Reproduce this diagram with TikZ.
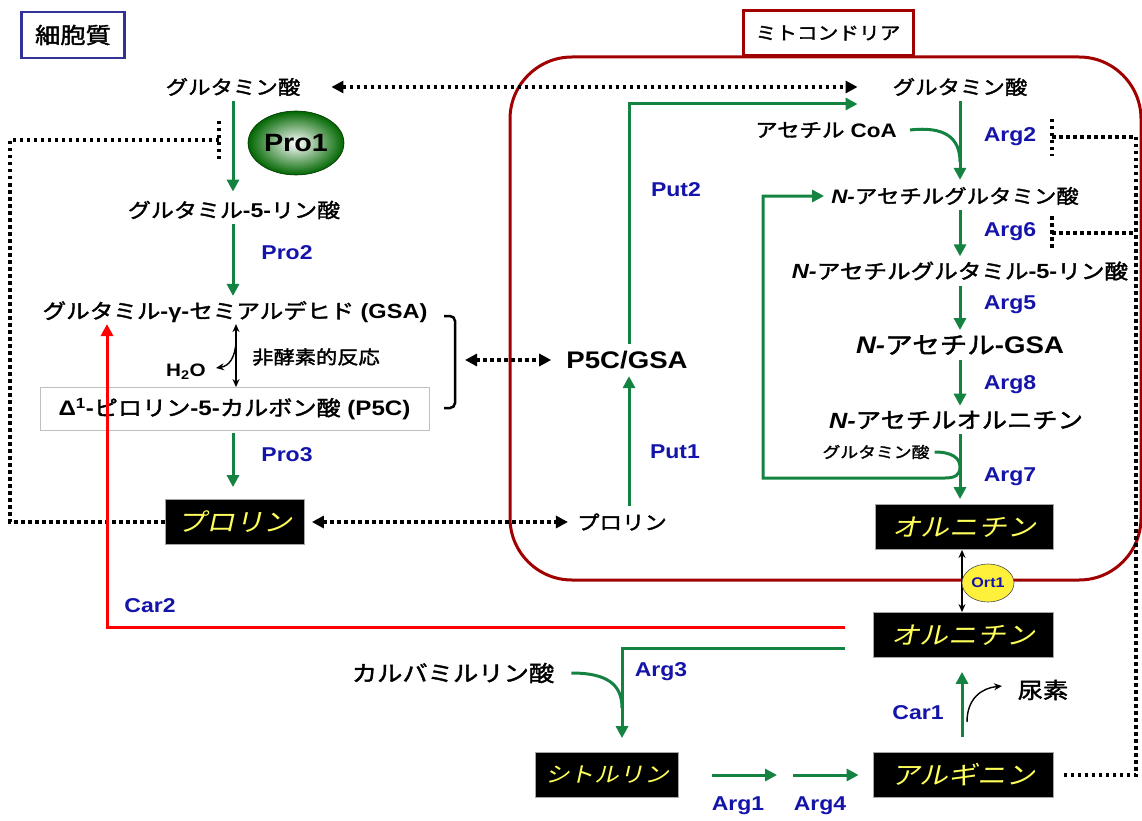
\documentclass[tikz,border=0pt]{standalone}
\usepackage{fontspec}
\setmainfont{Liberation Sans}[FakeStretch=1.15]
\newfontfamily\ar{Liberation Sans}[FakeStretch=1.15]
\newfontfamily\jp{Noto Sans CJK JP}[FakeStretch=1.15,FakeBold=1.8]
\newfontfamily\jpi{Noto Sans CJK JP}[FakeStretch=1.15,FakeSlant=0.22]
\usetikzlibrary{arrows.meta,shapes.geometric}
\newcommand\jt[1]{{\jp #1}}
\newcommand\lt[1]{{\ar\bfseries #1}}
\newcommand\fs[1]{\fontsize{#1}{#1}\selectfont}
\definecolor{mred}{RGB}{160,0,0}
\definecolor{cblue}{RGB}{50,50,150}
\definecolor{grn}{RGB}{20,130,65}
\definecolor{lblue}{RGB}{20,20,170}
\definecolor{yel}{RGB}{255,255,90}
\definecolor{ort}{RGB}{255,240,60}
\tikzset{
  txt/.style={inner sep=1pt, font=\fs{19.5}},
  lbl/.style={inner sep=1pt, text=lblue, font=\ar\bfseries\fs{20}},
  ybox/.style={fill=black, draw=gray!70, line width=0.8pt, text=yel, font=\jpi\fs{25}, minimum height=45, inner sep=0pt},
  garrow/.style={draw=grn, line width=3pt, -{Triangle[length=12pt,width=12pt]}},
  gline/.style={draw=grn, line width=3pt},
  dotl/.style={draw=black, line width=3.5pt, dash pattern=on 3.5pt off 3.5pt},
  dotdbl/.style={dotl, {Triangle[length=12pt,width=12pt]}-{Triangle[length=12pt,width=12pt]}},
  bdbl/.style={draw=black, line width=1.4pt, {Stealth[length=8pt,width=7pt]}-{Stealth[length=8pt,width=7pt]}},
  barrow/.style={draw=black, line width=1.4pt, -{Stealth[length=8pt,width=7pt]}},
}
\begin{document}
\begin{tikzpicture}[x=1pt,y=-1pt]
\useasboundingbox (0,0) rectangle (1142,821);
% compartments
\draw[mred, line width=3pt, rounded corners=62pt] (510,57) rectangle (1141,580);
\node[draw=mred, line width=3pt, fill=white, minimum width=170, minimum height=45, inner sep=0pt, font=\jp\fs{18}] (mito) at (828,33) {ミトコンドリア};
\node[draw=cblue, line width=2.5pt, minimum width=103, minimum height=46, inner sep=0pt, font=\jp\fs{22}] (cyto) at (73,35) {細胞質};

% left column
\node[txt] (gluL) at (233,87) {\jt{グルタミン酸}};
\node[txt, font=\fs{20}] (g5p) at (234,210) {\jt{グルタミル}\lt{-5-}\jt{リン酸}};
\node[txt, font=\fs{20.5}] (gsa) at (235,312) {\jt{グルタミル}\lt{-γ-}\jt{セミアルデヒド} \lt{(GSA)}};
\node[draw=gray!50, line width=0.8pt, fill=white, minimum width=389, minimum height=43, inner sep=0pt, font=\fs{21}] (p5c) at (234.5,409) {\lt{Δ\textsuperscript{1}-}\jt{ピロリン}\lt{-5-}\jt{カルボン酸} \lt{(P5C)}};
\node[ybox, minimum width=139] (proL) at (235,522) {プロリン};
\node[ellipse, inner color=white, outer color=green!40!black, draw=green!20!black, line width=0.6pt, minimum width=96, minimum height=64, inner sep=0pt, font=\ar\bfseries\fs{25}] (pro1) at (296,143) {Pro1};

\coordinate (cL) at (233,0);
\draw[garrow, shorten <=4pt, shorten >=8pt] (gluL.south -| cL) -- (g5p.north -| cL);
\draw[garrow, shorten <=4pt, shorten >=4pt] (g5p.south -| cL) -- (gsa.north -| cL);
\draw[garrow, shorten <=2pt, shorten >=12pt] (p5c.south -| cL) -- (proL.north -| cL);
\node[lbl] (pro2) at (287,253) {Pro2};
\node[lbl] (pro3) at (287,455) {Pro3};

% non-enzymatic
\coordinate (cN) at (236,0);
\draw[bdbl] (gsa.south -| cN) -- (p5c.north -| cN);
\draw[barrow] (236,342) .. controls (235,358) and (229,366) .. (216,368);
\node[inner sep=0pt, font=\ar\bfseries\fs{18}] (h2o) at (186,372) {H\textsubscript{2}O};
\node[inner sep=0pt, font=\jp\fs{18.5}] (nonenz) at (316,357) {非酵素的反応};

% Pro1 feedback dotted
\draw[dotl] (219,121) -- (219,159);
\draw[dotl] (219,140) -- (10,140) -- (10,522) -- (proL.west);

% bracket and exchange
\draw[line width=2.5pt, rounded corners=5pt] (444,316) -- (455,316) -- (455,408) -- (444,408);
\coordinate (br) at (455,360);
\node[inner sep=1pt, font=\ar\bfseries\fs{24}] (pg) at (627,360) {P5C/GSA};
\draw[dotdbl] ([xshift=10pt]br) -- ([xshift=-14pt]pg.west);

% top exchange
\node[txt] (gluR) at (960,87) {\jt{グルタミン酸}};
\draw[dotdbl] ([xshift=30pt]gluL.east) -- ([xshift=-34pt]gluR.west);

% proline exchange
\node[txt] (proM) at (622,522) {\jt{プロリン}};
\draw[dotdbl] ([xshift=7pt]proL.east) -- ([xshift=-8pt]proM.west);

% Put1 / Put2
\coordinate (cP) at (629,0);
\draw[garrow, shorten <=6pt, shorten >=6pt] (proM.north -| cP) -- (pg.south -| cP);
\draw[garrow, shorten <=6pt] (pg.north -| cP) |- ([xshift=-34pt,yshift=-17pt]gluR.west);
\node[lbl] (put2) at (676,190) {Put2};
\node[lbl] (put1) at (675,452) {Put1};

% right column
\node[txt] (acoa) at (826,130) {\jt{アセチル} \lt{CoA}};
\node[txt] (nag) at (955,196) {\lt{\itshape N-}\jt{アセチルグルタミン酸}};
\node[txt, font=\fs{20.5}] (nagp) at (960,271) {\lt{\itshape N-}\jt{アセチルグルタミル}\lt{-5-}\jt{リン酸}};
\node[inner sep=1pt, font=\fs{24}] (ngsa) at (960,345) {\lt{\itshape N-}\jt{アセチル}\lt{-GSA}};
\node[txt, font=\fs{22}] (naorn) at (956,420) {\lt{\itshape N-}\jt{アセチルオルニチン}};
\node[inner sep=1pt, font=\fs{15.5}] (gluS) at (876,452) {\jt{グルタミン酸}};
\node[ybox, minimum width=178] (ornM) at (964,527) {オルニチン};
\node[ybox, minimum width=180] (ornC) at (963,635) {オルニチン};

\coordinate (cA) at (960,0);
\draw[garrow, shorten <=4pt, shorten >=6pt] (gluR.south -| cA) -- (nag.north -| cA);
\draw[gline] ([xshift=12pt]acoa.east) .. controls (945,126) and (960,138) .. (960,162);
\draw[garrow, shorten <=4pt, shorten >=4pt] (nag.south -| cA) -- (nagp.north -| cA);
\draw[garrow, shorten <=4pt, shorten >=4pt] (nagp.south -| cA) -- (ngsa.north -| cA);
\draw[garrow, shorten <=4pt, shorten >=4pt] (ngsa.south -| cA) -- (naorn.north -| cA);
\draw[garrow, shorten <=4pt, shorten >=5pt] (naorn.south -| cA) -- (ornM.north -| cA);
\draw[gline] ([xshift=4pt]gluS.east) .. controls (952,452) and (960,458) .. (960,467);
\draw[garrow] (960,467) .. controls (960,475) and (955,478) .. (945,478) -- (763,478) |- ([xshift=-6pt]nag.west);
\node[lbl] (arg2) at (1010,137) {Arg2};
\node[lbl] (arg6) at (1010,232) {Arg6};
\node[lbl] (arg5) at (1010,305) {Arg5};
\node[lbl] (arg8) at (1010,385) {Arg8};
\node[lbl] (arg7) at (1010,477) {Arg7};

% Ort1
\draw[bdbl] ([xshift=-2pt]ornM.south) -- ([xshift=-1pt]ornC.north);
\node[ellipse, fill=ort, draw=gray!60!black, line width=0.6pt, minimum width=52, minimum height=38, inner sep=0pt, text=lblue, font=\ar\bfseries\fs{14}] (ort1) at (988,583) {Ort1};

% urea cycle
\node[inner sep=1pt, font=\fs{22}] (carb) at (453,673) {\jt{カルバミルリン酸}};
\node[ybox, minimum width=143, font=\jpi\fs{21.5}] (citr) at (607,775) {シトルリン};
\node[ybox, minimum width=180] (argn) at (963,775) {アルギニン};
\node[inner sep=1pt, font=\jp\fs{22}] (urea) at (1043,690) {尿素};

\draw[red, line width=3pt, -{Triangle[length=12pt,width=12pt]}] ([xshift=-28pt,yshift=8pt]ornC.west) -| ([xshift=-128pt]gsa.south);
\node[lbl] (car2) at (150,606) {Car2};
\draw[garrow, shorten >=14pt] ([xshift=-28pt,yshift=-13pt]ornC.west) -| ([xshift=15pt]citr.north);
\draw[gline] ([xshift=16pt]carb.east) .. controls (608,673) and (622,685) .. (622,708);
\node[lbl] (arg3) at (661,672) {Arg3};

\coordinate (mid) at (785,775);
\draw[garrow] ([xshift=33pt]citr.east) -- ([xshift=-8pt]mid);
\draw[garrow] ([xshift=8pt]mid) -- ([xshift=-14pt]argn.west);
\node[lbl] (arg1) at (738,806) {Arg1};
\node[lbl] (arg4) at (820,806) {Arg4};

\draw[garrow, shorten <=15pt, shorten >=14pt] ([xshift=-1pt]argn.north) -- ([xshift=-1pt]ornC.south);
\draw[barrow] (967,722) .. controls (967,698) and (982,688) .. (1002,686);
\node[lbl] (car1) at (918,713) {Car1};

% right dotted feedback
\draw[dotl] (1052,119) -- (1052,156);
\draw[dotl] (1052,216) -- (1052,250);
\draw[dotl] (1052,137) -- (1136,137) -- (1136,775) -- ([xshift=7pt]argn.east);
\draw[dotl] (1052,233) -- (1136,233);
\end{tikzpicture}
\end{document}
